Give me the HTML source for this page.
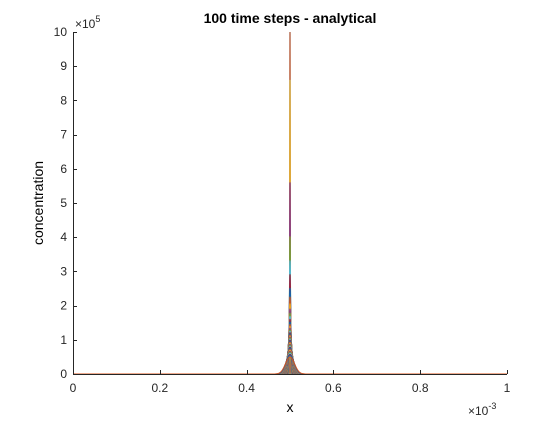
<!DOCTYPE html>
<html><head><meta charset="utf-8"><style>
body{margin:0;background:#fff;}
svg text{font-family:"Liberation Sans","DejaVu Sans",sans-serif;}
</style></head><body>
<svg id="chart" width="560" height="420" xmlns="http://www.w3.org/2000/svg">
<rect width="560" height="420" fill="#fff"/>
<rect x="73" y="32" width="434" height="342" fill="#fff" stroke="none"/>
<defs><clipPath id="clip"><rect x="73" y="32" width="434" height="342"/></clipPath></defs>
<g id="series" clip-path="url(#clip)"></g>
<g id="axes"></g>
<text x="290" y="23" font-size="14" font-weight="bold" text-anchor="middle">100 time steps - analytical</text>
<text x="290" y="412" font-size="14" text-anchor="middle">x</text>
<text transform="translate(43,203) rotate(-90)" font-size="14" text-anchor="middle">concentration</text>
<text x="75" y="28" font-size="12" fill="#262626">×10<tspan dy="-6" font-size="9">5</tspan></text>
<text x="468" y="415" font-size="12" fill="#262626">×10<tspan dy="-6" font-size="9">-3</tspan></text>
</svg>
<script>
const xTicks=[0,0.2,0.4,0.6,0.8,1];
const xTickLabels=["0","0.2","0.4","0.6","0.8","1"];
const yTicks=[0,1,2,3,4,5,6,7,8,9,10];
const yTickLabels=["0","1","2","3","4","5","6","7","8","9","10"];
const peaks=[1500000,1000000,860000,560000,400000,330000,290000,250000,225000,205000,190000,178000,168000,160000,152000,145000,139000,134000,129000,125000,121000,117000,114000,111000,108000,105000,102000,99000,96000,93000,90000,87000,84000,81000,78000,75000,72000,69000,66000,63000,60000,57000,54000,50000];
const center=0.5;
const area=520;
const NS="http://www.w3.org/2000/svg";
const L=73,R=507,T=32,B=374;
function sx(v){return L+(v-0)/(1-0)*(R-L);}
function sy(v){return B-(v/1e6)*(B-T);}
function ty(v){return B-(v/10)*(B-T);}
const colors=["#0072BD","#D95319","#EDB120","#7E2F8E","#77AC30","#4DBEEE","#A2142F"];
const sg=document.getElementById('series');
peaks.forEach((p,i)=>{
  const sigma=area/p;
  let d2="";
  for(let k=-200;k<=200;k++){
    const x=center+k*sigma*6/200;
    const dx=x-center;
    const y=p*Math.exp(-dx*dx/(2*sigma*sigma));
    d2+="L"+sx(x).toFixed(2)+","+sy(y).toFixed(2);
  }
  const path=document.createElementNS(NS,'path');
  path.setAttribute('d',"M"+sx(0)+","+sy(0)+"L"+sx(center-sigma*6)+","+sy(0)+d2+"L"+sx(1)+","+sy(0));
  path.setAttribute('fill','none');
  path.setAttribute('stroke',colors[i%7]);
  path.setAttribute('stroke-width','1');
  
  
  sg.appendChild(path);
});
const ax=document.getElementById('axes');
function line(x1,y1,x2,y2,name){
  const l=document.createElementNS(NS,'line');
  l.setAttribute('x1',x1);l.setAttribute('y1',y1);l.setAttribute('x2',x2);l.setAttribute('y2',y2);
  l.setAttribute('stroke','#262626');l.setAttribute('stroke-width','1');
  
  
  ax.appendChild(l);
}
line(L,B+0.5,R,B+0.5,'x-axis-line');
line(L+0.5,T,L+0.5,B,'y-axis-line');
xTicks.forEach((v,i)=>{
  const x=Math.round(sx(v))+0.5;
  line(x,B,x,B-4,'x-tick');
  const t=document.createElementNS(NS,'text');
  t.setAttribute('x',sx(v));t.setAttribute('y',B+18);
  t.setAttribute('font-size','12');t.setAttribute('text-anchor','middle');t.setAttribute('fill','#262626');
  t.textContent=xTickLabels[i];
  
  
  ax.appendChild(t);
});
yTicks.forEach((v,i)=>{
  const y=Math.round(ty(v))+0.5;
  line(L,y,L+4,y,'y-tick');
  const t=document.createElementNS(NS,'text');
  t.setAttribute('x',L-6);t.setAttribute('y',ty(v)+4);
  t.setAttribute('font-size','12');t.setAttribute('text-anchor','end');t.setAttribute('fill','#262626');
  t.textContent=yTickLabels[i];
  
  
  ax.appendChild(t);
});
</script>
</body></html>
